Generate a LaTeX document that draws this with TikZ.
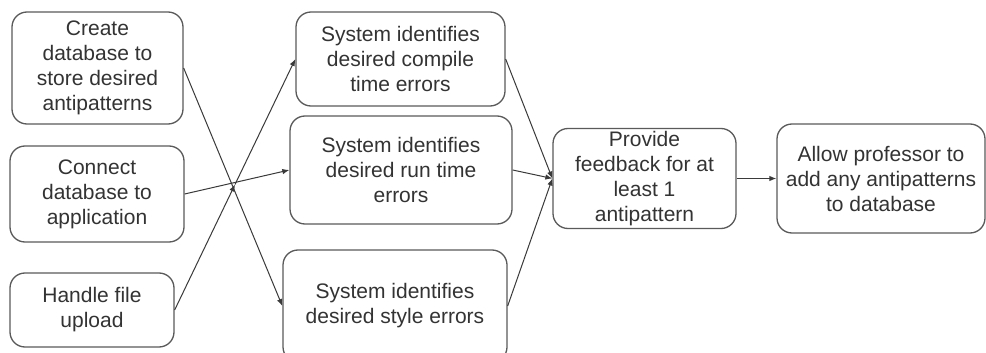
\documentclass[tikz,border=0pt]{standalone}
\usepackage{fontspec}
\setmainfont{Liberation Sans}
\usetikzlibrary{arrows.meta,calc}
\definecolor{boxline}{HTML}{5A5A5A}
\definecolor{inkgray}{HTML}{333333}
\definecolor{wirecol}{HTML}{3A3A3A}
\begin{document}
\begin{tikzpicture}[x=1pt,y=-1pt,
  stepbox/.style={draw=boxline, line width=1.3pt, rounded corners=15pt,
    fill=white, text=inkgray, align=center, inner sep=0pt,
    font=\fontsize{21}{25}\selectfont},
  wire/.style={draw=wirecol, line width=1pt,
    -{Latex[length=7pt,width=5.5pt]}}]
  \useasboundingbox[fill=white] (0,0) rectangle (986,353);

  % left column: preparation steps
  \node[stepbox, minimum width=171pt, minimum height=112pt] (A) at (97.5,68)
    {Create\\database to\\store desired\\antipatterns};
  \node[stepbox, minimum width=174pt, minimum height=96pt] (B) at (97,194)
    {Connect\\database to\\application};
  \node[stepbox, minimum width=164pt, minimum height=74pt] (C) at (92,310)
    {Handle file\\upload};

  % middle column: error detection
  \node[stepbox, minimum width=209pt, minimum height=94pt] (D) at (400.5,59)
    {System identifies\\desired compile\\time errors};
  \node[stepbox, minimum width=222pt, minimum height=108pt] (E) at (401,170)
    {System identifies\\desired run time\\errors};
  \node[stepbox, minimum width=224pt, minimum height=112pt] (F) at (395,306)
    {System identifies\\desired style errors};

  % right: feedback and extension
  \node[stepbox, minimum width=183pt, minimum height=100pt] (G) at (644.5,178.5)
    {Provide\\feedback for at\\least 1\\antipattern};
  \node[stepbox, minimum width=208pt, minimum height=109pt] (H) at (881,178.5)
    {Allow professor to\\add any antipatterns\\to database};

  % connectors
  \coordinate (X) at ($(C.east)!0.5!(D.west)$);
  \draw[wire] (A.east) -- (F.west);
  \draw[wire] (B.east) -- (E.west);
  \draw[wire] (C.east) -- (X);
  \draw[wire] (X) -- (D.west);
  \draw[wire] (D.east) -- (G.west);
  \draw[wire] (E.east) -- (G.west);
  \draw[wire] (F.east) -- (G.west);
  \draw[wire] (G.east) -- (H.west);
\end{tikzpicture}
\end{document}
